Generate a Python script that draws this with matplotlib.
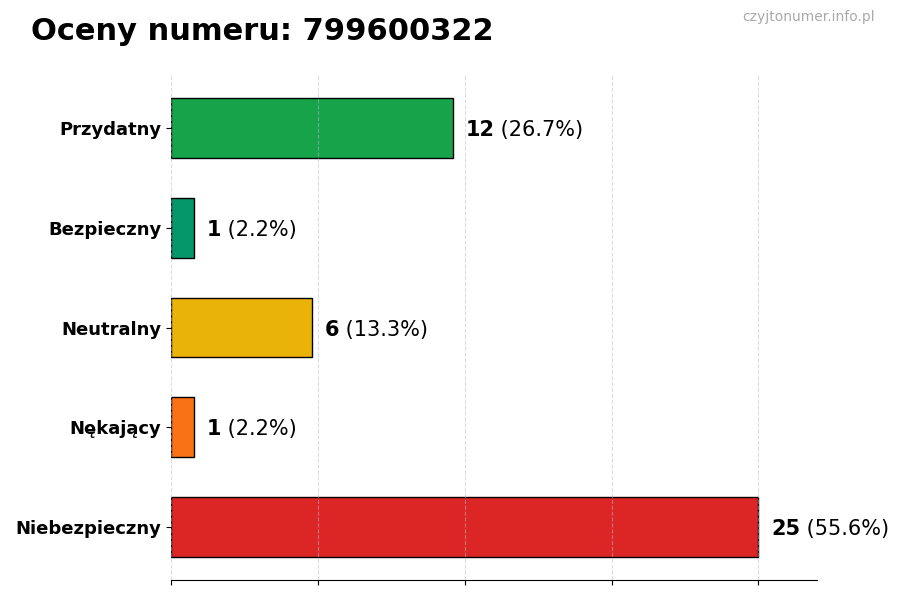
import numpy as np
from matplotlib import pyplot as plt

categories = ['Przydatny', 'Bezpieczny', 'Neutralny', 'Nękający', 'Niebezpieczny']
counts = [12, 1, 6, 1, 25]
colors = ['#16a34a', '#059669', '#eab308', '#f97316', '#dc2626']

total = sum(counts)
y = np.arange(len(categories))

fig = plt.figure(figsize=(9, 6), dpi=100)
ax = fig.add_axes([0.19, 0.0333, 0.718, 0.8417])

ax.barh(y, counts, height=0.6, color=colors, edgecolor='black', linewidth=1, zorder=2)
ax.invert_yaxis()
ax.set_xlim(0, max(counts) * 1.1)
ax.set_xticks(np.linspace(0, max(counts), 5))
ax.set_xticklabels([])
ax.grid(axis='x', linestyle='--', color='#bbbbbb', linewidth=0.8, alpha=0.5, zorder=3)
ax.set_axisbelow(False)
ax.set_yticks(y)
ax.set_yticklabels(categories, fontsize=13, fontweight='bold')
for s in ['top', 'right', 'left']:
    ax.spines[s].set_visible(False)

for i, c in enumerate(counts):
    t = ax.annotate(str(c), xy=(c, i), xytext=(9, 0), textcoords='offset points',
                    va='center_baseline', ha='left', fontsize=15, fontweight='bold')
    ax.annotate(' (%.1f%%)' % (c / total * 100), xy=(1, 0), xycoords=t,
                va='bottom', ha='left', fontsize=15)

fig.text(0.034, 0.948, 'Oceny numeru: 799600322', fontsize=22, fontweight='bold', va='center')
fig.text(0.972, 0.971, 'czyjtonumer.info.pl', fontsize=10, color='#aaaaaa', ha='right', va='center')

plt.savefig('out.png')
